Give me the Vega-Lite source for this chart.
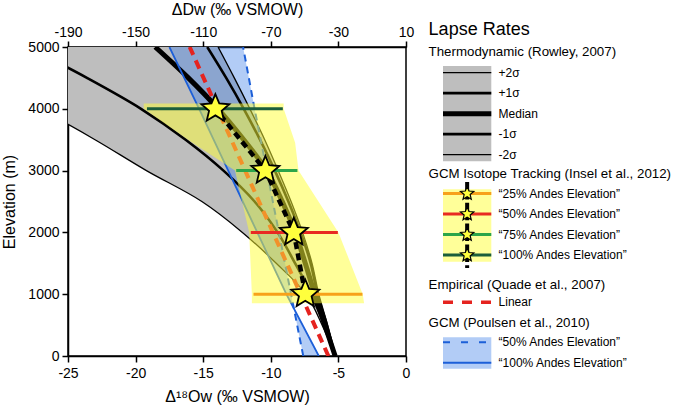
{
  "$schema": "https://vega.github.io/schema/vega-lite/v6.json",
  "width": 338,
  "height": 309,
  "autosize": {"type": "none"},
  "padding": {"left": 68, "top": 47, "right": 269, "bottom": 51},
  "background": "white",
  "config": {
    "font": "Liberation Sans",
    "view": {"stroke": "black", "strokeWidth": 1.5},
    "axis": {"domainColor": "black", "domainWidth": 1.5, "tickColor": "black", "tickWidth": 1.5, "tickSize": 6, "labelColor": "black", "titleColor": "black", "labelFont": "Liberation Sans", "titleFont": "Liberation Sans", "labelFontSize": 14, "titleFontSize": 16, "titleFontWeight": "normal", "grid": false, "labelFlush": false},
    "text": {"font": "Liberation Sans", "color": "black"}
  },
  "datasets": {
    "rowley": [
      {"elev": 0, "+2σ": -5.24, "+1σ": -5.24, "Median": -5.24, "-1σ": -5.24, "-2σ": -5.24},
      {"elev": 500, "+2σ": -5.8, "+1σ": -5.85, "Median": -6.0, "-1σ": -6.05, "-2σ": -6.2},
      {"elev": 1000, "+2σ": -6.45, "+1σ": -6.55, "Median": -6.75, "-1σ": -7.0, "-2σ": -7.4},
      {"elev": 1500, "+2σ": -6.95, "+1σ": -7.05, "Median": -7.45, "-1σ": -8.2, "-2σ": -9.6},
      {"elev": 2000, "+2σ": -7.65, "+1σ": -7.8, "Median": -8.2, "-1σ": -9.5, "-2σ": -12.1},
      {"elev": 2500, "+2σ": -8.5, "+1σ": -8.7, "Median": -9.15, "-1σ": -11.2, "-2σ": -15.1},
      {"elev": 3000, "+2σ": -9.45, "+1σ": -9.7, "Median": -10.3, "-1σ": -13.5, "-2σ": -19.2},
      {"elev": 3500, "+2σ": -10.45, "+1σ": -10.8, "Median": -12.0, "-1σ": -16.3, "-2σ": -23.0},
      {"elev": 4000, "+2σ": -11.55, "+1σ": -12.0, "Median": -13.9, "-1σ": -19.6, "-2σ": -27.1},
      {"elev": 4500, "+2σ": -12.7, "+1σ": -13.3, "Median": -16.1, "-1σ": -23.6, "-2σ": -31.5},
      {"elev": 5000, "+2σ": -13.9, "+1σ": -14.7, "Median": -18.55, "-1σ": -28.0, "-2σ": -37.0}
    ],
    "poulsen": [
      {"elev": 0, "pct100": -6.45, "pct50": -7.6},
      {"elev": 1000, "pct100": -8.85, "pct50": -8.5},
      {"elev": 2000, "pct100": -11.0, "pct50": -9.4},
      {"elev": 3000, "pct100": -13.15, "pct50": -10.3},
      {"elev": 4000, "pct100": -15.3, "pct50": -11.2},
      {"elev": 5000, "pct100": -17.5, "pct50": -12.05}
    ],
    "quade": [
      {"elev": 0, "d18O": -5.74},
      {"elev": 5000, "d18O": -16.0}
    ],
    "insel": [
      {"series": "Insel 25%", "elev": 1000, "d18O": -7.45, "lo": -11.28, "hi": -3.22},
      {"series": "Insel 50%", "elev": 2000, "d18O": -8.3, "lo": -11.48, "hi": -5.04},
      {"series": "Insel 75%", "elev": 3000, "d18O": -10.4, "lo": -12.56, "hi": -8.03},
      {"series": "Insel 100%", "elev": 4000, "d18O": -14.1, "lo": -19.16, "hi": -9.11}
    ],
    "envelope": [
      {"elev": 852, "lo": -11.4, "hi": -3.1},
      {"elev": 1000, "lo": -11.4, "hi": -3.2},
      {"elev": 2000, "lo": -11.6, "hi": -5.0},
      {"elev": 3000, "lo": -12.65, "hi": -7.95},
      {"elev": 3450, "lo": -15.8, "hi": -8.2},
      {"elev": 4000, "lo": -19.4, "hi": -9.05},
      {"elev": 4085, "lo": -19.4, "hi": -9.05}
    ],
    "legend": [
      {"kind": "title", "group": "All", "key": "", "label": "Lapse Rates", "slot": 0},
      {"kind": "heading", "group": "Rowley", "key": "", "label": "Thermodynamic (Rowley, 2007)", "slot": 1.1},
      {"kind": "entry", "group": "Rowley", "key": "+2σ", "label": "+2σ", "slot": 2.1},
      {"kind": "entry", "group": "Rowley", "key": "+1σ", "label": "+1σ", "slot": 3.1},
      {"kind": "entry", "group": "Rowley", "key": "Median", "label": "Median", "slot": 4.1},
      {"kind": "entry", "group": "Rowley", "key": "-1σ", "label": "-1σ", "slot": 5.1},
      {"kind": "entry", "group": "Rowley", "key": "-2σ", "label": "-2σ", "slot": 6.1},
      {"kind": "heading", "group": "Insel", "key": "", "label": "GCM Isotope Tracking (Insel et al., 2012)", "slot": 7.05},
      {"kind": "entry", "group": "Insel", "key": "Insel 25%", "label": "“25% Andes Elevation”", "slot": 8.0},
      {"kind": "entry", "group": "Insel", "key": "Insel 50%", "label": "“50% Andes Elevation”", "slot": 9.0},
      {"kind": "entry", "group": "Insel", "key": "Insel 75%", "label": "“75% Andes Elevation”", "slot": 10.0},
      {"kind": "entry", "group": "Insel", "key": "Insel 100%", "label": "“100% Andes Elevation”", "slot": 11.0},
      {"kind": "heading", "group": "Quade", "key": "", "label": "Empirical (Quade et al., 2007)", "slot": 12.45},
      {"kind": "entry", "group": "Quade", "key": "Linear", "label": "Linear", "slot": 13.3},
      {"kind": "heading", "group": "Poulsen", "key": "", "label": "GCM (Poulsen et al., 2010)", "slot": 14.3},
      {"kind": "entry", "group": "Poulsen", "key": "Poulsen 50%", "label": "“50% Andes Elevation”", "slot": 15.25},
      {"kind": "entry", "group": "Poulsen", "key": "Poulsen 100%", "label": "“100% Andes Elevation”", "slot": 16.25}
    ]
  },
  "resolve": {"scale": {"x": "independent", "y": "independent"}, "axis": {"x": "independent", "y": "independent"}},
  "layer": [
    {
      "layer": [
        {
          "data": {"name": "rowley"},
          "mark": {"type": "area", "orient": "horizontal", "interpolate": "catmull-rom", "color": "#bebebe", "clip": true},
          "encoding": {
            "y": {"field": "elev", "type": "quantitative", "scale": {"domain": [0, 5000], "nice": false, "zero": false},
                  "axis": {"title": "Elevation (m)", "values": [0, 1000, 2000, 3000, 4000, 5000], "format": "d", "labelPadding": 3, "titlePadding": 10}},
            "x": {"field": "-2σ", "type": "quantitative", "scale": {"domain": [-25, 0], "nice": false, "zero": false},
                  "axis": {"orient": "bottom", "title": "Δ¹⁸Ow (‰ VSMOW)", "values": [-25, -20, -15, -10, -5, 0], "format": "d", "labelExpr": "replace(datum.label, '−', '-')", "labelPadding": 4, "titlePadding": 8}},
            "x2": {"field": "+2σ"}
          }
        },
        {
          "data": {"name": "poulsen"},
          "mark": {"type": "area", "orient": "horizontal", "color": "#3f7fe8", "opacity": 0.4, "clip": true},
          "encoding": {
            "y": {"field": "elev", "type": "quantitative"},
            "x": {"field": "pct100", "type": "quantitative"},
            "x2": {"field": "pct50"}
          }
        },
        {
          "data": {"name": "rowley"},
          "transform": [{"fold": ["+2σ", "-2σ"], "as": ["curve", "d18O"]}],
          "mark": {"type": "line", "interpolate": "catmull-rom", "color": "black", "strokeWidth": 1.3, "clip": true},
          "encoding": {
            "x": {"field": "d18O", "type": "quantitative"},
            "y": {"field": "elev", "type": "quantitative"},
            "detail": {"field": "curve", "type": "nominal"},
            "order": {"field": "elev", "type": "quantitative"}
          }
        },
        {
          "data": {"name": "rowley"},
          "transform": [{"fold": ["+1σ", "-1σ"], "as": ["curve", "d18O"]}],
          "mark": {"type": "line", "interpolate": "catmull-rom", "color": "black", "strokeWidth": 2.6, "clip": true},
          "encoding": {
            "x": {"field": "d18O", "type": "quantitative"},
            "y": {"field": "elev", "type": "quantitative"},
            "detail": {"field": "curve", "type": "nominal"},
            "order": {"field": "elev", "type": "quantitative"}
          }
        },
        {
          "data": {"name": "rowley"},
          "mark": {"type": "line", "interpolate": "catmull-rom", "color": "black", "strokeWidth": 5, "clip": true},
          "encoding": {
            "x": {"field": "Median", "type": "quantitative"},
            "y": {"field": "elev", "type": "quantitative"},
            "order": {"field": "elev", "type": "quantitative"}
          }
        },
        {
          "data": {"name": "poulsen"},
          "mark": {"type": "line", "color": "#1c5fd8", "strokeWidth": 1.8, "clip": true},
          "encoding": {
            "x": {"field": "pct100", "type": "quantitative"},
            "y": {"field": "elev", "type": "quantitative"},
            "order": {"field": "elev", "type": "quantitative"}
          }
        },
        {
          "data": {"name": "poulsen"},
          "mark": {"type": "line", "color": "#1c5fd8", "strokeWidth": 2, "strokeDash": [7, 5], "clip": true},
          "encoding": {
            "x": {"field": "pct50", "type": "quantitative"},
            "y": {"field": "elev", "type": "quantitative"},
            "order": {"field": "elev", "type": "quantitative"}
          }
        },
        {
          "data": {"name": "quade"},
          "mark": {"type": "line", "color": "#e5231f", "strokeWidth": 4, "strokeDash": [9, 6], "clip": true},
          "encoding": {
            "x": {"field": "d18O", "type": "quantitative"},
            "y": {"field": "elev", "type": "quantitative"},
            "order": {"field": "elev", "type": "quantitative"}
          }
        },
        {
          "data": {"name": "envelope"},
          "mark": {"type": "area", "orient": "horizontal", "color": "#ffff33", "opacity": 0.5, "clip": true},
          "encoding": {
            "y": {"field": "elev", "type": "quantitative"},
            "x": {"field": "lo", "type": "quantitative"},
            "x2": {"field": "hi"}
          }
        },
        {
          "data": {"name": "insel"},
          "mark": {"type": "rule", "strokeWidth": 3},
          "encoding": {
            "y": {"field": "elev", "type": "quantitative"},
            "x": {"field": "lo", "type": "quantitative"},
            "x2": {"field": "hi"},
            "color": {"field": "series", "type": "nominal", "scale": {"domain": ["Insel 25%", "Insel 50%", "Insel 75%", "Insel 100%"], "range": ["#f7a11a", "#e82a22", "#2ca54a", "#1b5e3b"]}, "legend": null}
          }
        },
        {
          "data": {"name": "insel"},
          "mark": {"type": "line", "color": "black", "strokeWidth": 4.5, "strokeDash": [7, 4.5]},
          "encoding": {
            "x": {"field": "d18O", "type": "quantitative"},
            "y": {"field": "elev", "type": "quantitative"},
            "order": {"field": "elev", "type": "quantitative"}
          }
        },
        {
          "data": {"name": "insel"},
          "mark": {"type": "point", "shape": "M0,-1L0.265,-0.364L0.951,-0.309L0.428,0.139L0.588,0.809L0,0.45L-0.588,0.809L-0.428,0.139L-0.951,-0.309L-0.265,-0.364Z", "size": 866, "filled": true, "fill": "#ffff3d", "stroke": "black", "strokeWidth": 1.8, "opacity": 1},
          "encoding": {
            "x": {"field": "d18O", "type": "quantitative"},
            "y": {"field": "elev", "type": "quantitative"}
          }
        }
      ]
    },
    {
      "data": {"values": [{}]},
      "mark": {"type": "rule", "opacity": 0},
      "encoding": {
        "x": {"datum": -190, "type": "quantitative", "scale": {"domain": [-190, 10], "nice": false, "zero": false},
              "axis": {"orient": "top", "title": "ΔDw (‰ VSMOW)", "values": [-190, -150, -110, -70, -30, 10], "format": "d", "labelExpr": "replace(datum.label, '−', '-')", "labelPadding": 2, "titlePadding": 8}}
      }
    },
    {
      "data": {"name": "legend"},
      "layer": [
        {
          "transform": [{"filter": "datum.group == 'Rowley' && datum.kind == 'entry'"}],
          "mark": {"type": "rect", "color": "#bebebe", "yOffset": -6.7, "y2Offset": 6.7},
          "encoding": {
            "x": {"datum": 0, "type": "quantitative", "scale": {"domain": [0, 1], "range": [375, 423.3], "nice": false, "zero": false}, "axis": null},
            "x2": {"datum": 1},
            "y": {"aggregate": "min", "field": "slot", "type": "quantitative", "scale": {"domain": [0, 16], "range": [-17.4, 310.6], "nice": false, "zero": false}, "axis": null},
            "y2": {"aggregate": "max", "field": "slot"}
          }
        },
        {
          "transform": [{"filter": "datum.key == '+2σ' || datum.key == '-2σ'"}],
          "mark": {"type": "rule", "color": "black", "strokeWidth": 1.3},
          "encoding": {
            "x": {"datum": 0, "type": "quantitative", "axis": null},
            "x2": {"datum": 1},
            "y": {"field": "slot", "type": "quantitative", "axis": null}
          }
        },
        {
          "transform": [{"filter": "datum.key == '+1σ' || datum.key == '-1σ'"}],
          "mark": {"type": "rule", "color": "black", "strokeWidth": 2.6},
          "encoding": {
            "x": {"datum": 0, "type": "quantitative", "axis": null},
            "x2": {"datum": 1},
            "y": {"field": "slot", "type": "quantitative", "axis": null}
          }
        },
        {
          "transform": [{"filter": "datum.key == 'Median'"}],
          "mark": {"type": "rule", "color": "black", "strokeWidth": 5},
          "encoding": {
            "x": {"datum": 0, "type": "quantitative", "axis": null},
            "x2": {"datum": 1},
            "y": {"field": "slot", "type": "quantitative", "axis": null}
          }
        },
        {
          "transform": [{"filter": "datum.group == 'Insel' && datum.kind == 'entry'"}],
          "mark": {"type": "rect", "color": "#ffff33", "opacity": 0.5, "yOffset": -4.3, "y2Offset": 6.7},
          "encoding": {
            "x": {"datum": 0, "type": "quantitative", "axis": null},
            "x2": {"datum": 1},
            "y": {"aggregate": "min", "field": "slot", "type": "quantitative", "axis": null},
            "y2": {"aggregate": "max", "field": "slot"}
          }
        },
        {
          "transform": [{"filter": "datum.group == 'Insel' && datum.kind == 'entry'"}],
          "mark": {"type": "rule", "strokeWidth": 3},
          "encoding": {
            "x": {"datum": 0, "type": "quantitative", "axis": null},
            "x2": {"datum": 1},
            "y": {"field": "slot", "type": "quantitative", "axis": null},
            "color": {"field": "key", "type": "nominal", "legend": null}
          }
        },
        {
          "transform": [{"filter": "datum.group == 'Insel' && datum.kind == 'entry'"}],
          "mark": {"type": "rule", "color": "black", "strokeWidth": 4, "strokeDash": [17.5, 3.3], "yOffset": -11.6, "y2Offset": 13},
          "encoding": {
            "x": {"datum": 0.5, "type": "quantitative", "axis": null},
            "y": {"aggregate": "min", "field": "slot", "type": "quantitative", "axis": null},
            "y2": {"aggregate": "max", "field": "slot"}
          }
        },
        {
          "transform": [{"filter": "datum.group == 'Insel' && datum.kind == 'entry'"}],
          "mark": {"type": "point", "shape": "M0,-1L0.265,-0.364L0.951,-0.309L0.428,0.139L0.588,0.809L0,0.45L-0.588,0.809L-0.428,0.139L-0.951,-0.309L-0.265,-0.364Z", "size": 196, "filled": true, "fill": "#ffff3d", "stroke": "black", "strokeWidth": 1.2, "opacity": 1},
          "encoding": {
            "x": {"datum": 0.5, "type": "quantitative", "axis": null},
            "y": {"field": "slot", "type": "quantitative", "axis": null}
          }
        },
        {
          "transform": [{"filter": "datum.group == 'Poulsen' && datum.kind == 'entry'"}],
          "mark": {"type": "rect", "color": "#3f7fe8", "opacity": 0.4, "yOffset": -5, "y2Offset": 6},
          "encoding": {
            "x": {"datum": 0, "type": "quantitative", "axis": null},
            "x2": {"datum": 1},
            "y": {"aggregate": "min", "field": "slot", "type": "quantitative", "axis": null},
            "y2": {"aggregate": "max", "field": "slot"}
          }
        },
        {
          "transform": [{"filter": "datum.key == 'Poulsen 50%'"}],
          "mark": {"type": "rule", "color": "#1c5fd8", "strokeWidth": 2, "strokeDash": [7, 11]},
          "encoding": {
            "x": {"datum": 0, "type": "quantitative", "axis": null},
            "x2": {"datum": 1},
            "y": {"field": "slot", "type": "quantitative", "axis": null}
          }
        },
        {
          "transform": [{"filter": "datum.key == 'Poulsen 100%'"}],
          "mark": {"type": "rule", "color": "#1c5fd8", "strokeWidth": 1.8},
          "encoding": {
            "x": {"datum": 0, "type": "quantitative", "axis": null},
            "x2": {"datum": 1},
            "y": {"field": "slot", "type": "quantitative", "axis": null}
          }
        },
        {
          "transform": [{"filter": "datum.key == 'Linear'"}],
          "mark": {"type": "rule", "color": "#e5231f", "strokeWidth": 3.5, "strokeDash": [10, 9]},
          "encoding": {
            "x": {"datum": 0, "type": "quantitative", "axis": null},
            "x2": {"datum": 1},
            "y": {"field": "slot", "type": "quantitative", "axis": null}
          }
        },
        {
          "transform": [{"filter": "datum.kind == 'title'"}],
          "mark": {"type": "text", "fontSize": 18, "align": "left", "baseline": "middle"},
          "encoding": {
            "x": {"datum": -0.298, "type": "quantitative", "axis": null},
            "y": {"field": "slot", "type": "quantitative", "axis": null},
            "text": {"field": "label"}
          }
        },
        {
          "transform": [{"filter": "datum.kind == 'heading'"}],
          "mark": {"type": "text", "fontSize": 13.3, "align": "left", "baseline": "middle"},
          "encoding": {
            "x": {"datum": -0.298, "type": "quantitative", "axis": null},
            "y": {"field": "slot", "type": "quantitative", "axis": null},
            "text": {"field": "label"}
          }
        },
        {
          "transform": [{"filter": "datum.kind == 'entry'"}],
          "mark": {"type": "text", "fontSize": 12, "align": "left", "baseline": "middle"},
          "encoding": {
            "x": {"datum": 1.151, "type": "quantitative", "axis": null},
            "y": {"field": "slot", "type": "quantitative", "axis": null},
            "text": {"field": "label"}
          }
        }
      ]
    }
  ]
}
